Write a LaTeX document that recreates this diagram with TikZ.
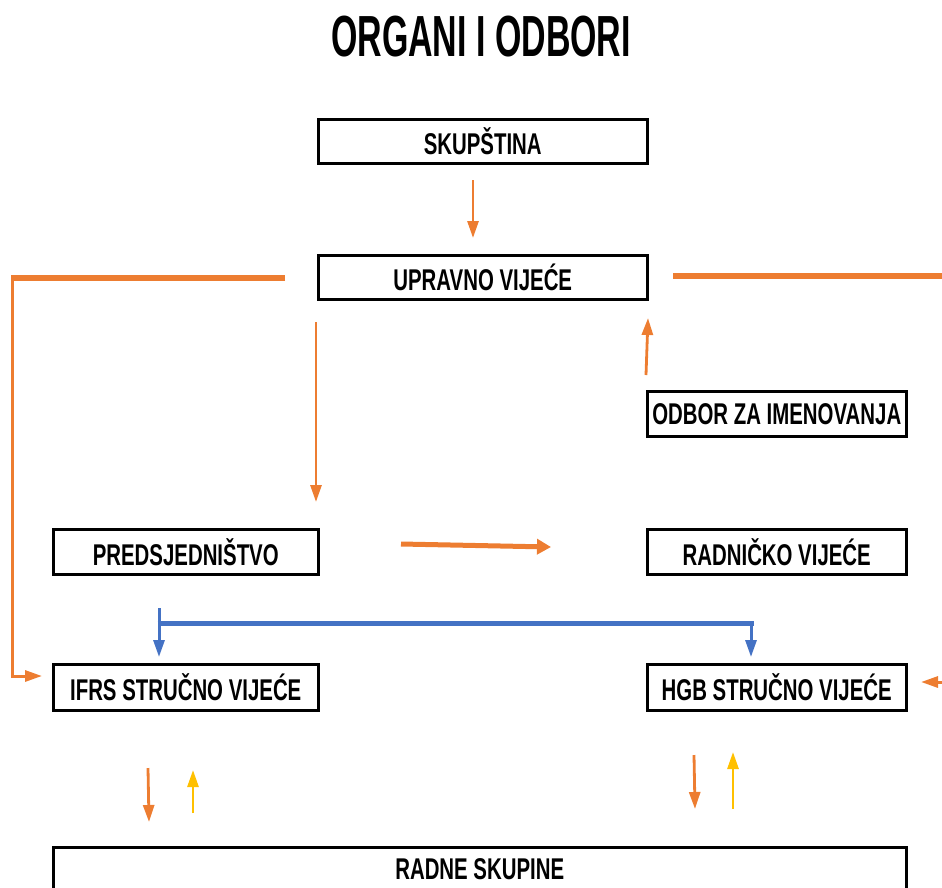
\documentclass[tikz,border=0pt]{standalone}
\usepackage{fontspec}
\newfontfamily\narrow[FakeStretch=0.68]{Liberation Sans}
\newfontfamily\narrowtitle[FakeStretch=0.585]{Liberation Sans}
\usetikzlibrary{arrows.meta,calc}
\definecolor{org}{HTML}{ED7D31}
\definecolor{ylw}{HTML}{FFC000}
\definecolor{blu}{HTML}{4472C4}
\begin{document}
\begin{tikzpicture}[x=1pt,y=-1pt,
  box/.style={draw=black, line width=2.5pt, fill=white, inner sep=0pt, anchor=north west,
    font=\narrow\bfseries\fontsize{30}{30}\selectfont},
  tip/.style={-{Triangle[length=17pt,width=11pt]}},
  oarr/.style={draw=org, line width=2.8pt, tip},
  yarr/.style={draw=ylw, line width=2.8pt, tip},
  barr/.style={draw=blu, line width=3pt, tip},
  oline/.style={draw=org, line width=6pt},
]
\useasboundingbox (0,0) rectangle (942,887);
\clip (0,0) rectangle (942,887);
\node[font=\narrowtitle\bfseries\fontsize{58}{58}\selectfont] (title) at (481,37) {ORGANI I ODBORI};

\node[box, minimum width=329pt, minimum height=44pt] (sk) at (317,118) {SKUPŠTINA};
\node[box, minimum width=329pt, minimum height=44pt] (up) at (317,254) {UPRAVNO VIJEĆE};
\node[box, minimum width=259pt, minimum height=45pt] (od) at (646,390) {ODBOR ZA IMENOVANJA};
\node[box, minimum width=265pt, minimum height=45pt] (pr) at (52,528) {PREDSJEDNIŠTVO};
\node[box, minimum width=259pt, minimum height=45pt] (ra) at (646,528) {RADNIČKO VIJEĆE};
\node[box, minimum width=265pt, minimum height=46pt] (ifrs) at (52,663) {IFRS STRUČNO VIJEĆE};
\node[box, minimum width=259pt, minimum height=46pt] (hgb) at (646,663) {HGB STRUČNO VIJEĆE};
\node[box, minimum width=853pt, minimum height=44pt] (rs) at (52,846) {RADNE SKUPINE};

% SKUPSTINA -> UPRAVNO VIJECE
\coordinate (a1) at (473,180);
\coordinate (a2) at (473,238);
\draw[oarr] (a1) -- (a2);

% left L connector UPRAVNO -> IFRS
\coordinate (l1) at (285,278);
\coordinate (l2) at (12,278);
\coordinate (l3) at (12,676);
\coordinate (l4) at (42,676);
\draw[oline] (l1) -- ([xshift=-1.5pt]l2);
\draw[oarr, line width=3pt] (l2) -- (l3) -- (l4);

% right connector UPRAVNO -> HGB
\coordinate (r1) at (673,276);
\coordinate (r2) at (942,276);
\draw[oline] (r1) -- (r2);
\coordinate (r3) at (944,682);
\coordinate (r4) at (921,682);
\draw[oarr, line width=3pt] (r3) -- (r4);

% ODBOR -> UPRAVNO
\coordinate (o1) at (646,375);
\coordinate (o2) at (648,318);
\draw[oarr] (o1) -- (o2);

% UPRAVNO -> PREDSJEDNISTVO
\coordinate (u1) at (316,322);
\coordinate (u2) at (316,502);
\draw[oarr] (u1) -- (u2);

% PREDSJEDNISTVO -> RADNICKO
\coordinate (p1) at (401,544);
\coordinate (p2) at (551,547);
\draw[oarr, line width=5pt, -{Triangle[length=14pt,width=15pt]}] (p1) -- (p2);

% blue bracket
\coordinate (b0) at (159,608);
\coordinate (b1) at (159,623);
\coordinate (b2) at (751,623);
\coordinate (b3) at (159,657);
\coordinate (b4) at (751,657);
\draw[draw=blu, line width=5pt] ([xshift=-1.5pt]b1) -- ([xshift=2.5pt]b2);
\draw[barr] (b0) -- (b3);
\draw[barr] (b2) -- (b4);

% bottom arrows
\coordinate (c1) at (148,768);
\coordinate (c2) at (149,822);
\coordinate (c3) at (193,813);
\coordinate (c4) at (193,770);
\coordinate (c5) at (694,755);
\coordinate (c6) at (695,809);
\coordinate (c7) at (733,809);
\coordinate (c8) at (733,752);
\draw[oarr] (c1) -- (c2);
\draw[yarr] (c3) -- (c4);
\draw[oarr] (c5) -- (c6);
\draw[yarr] (c7) -- (c8);
\end{tikzpicture}
\end{document}
